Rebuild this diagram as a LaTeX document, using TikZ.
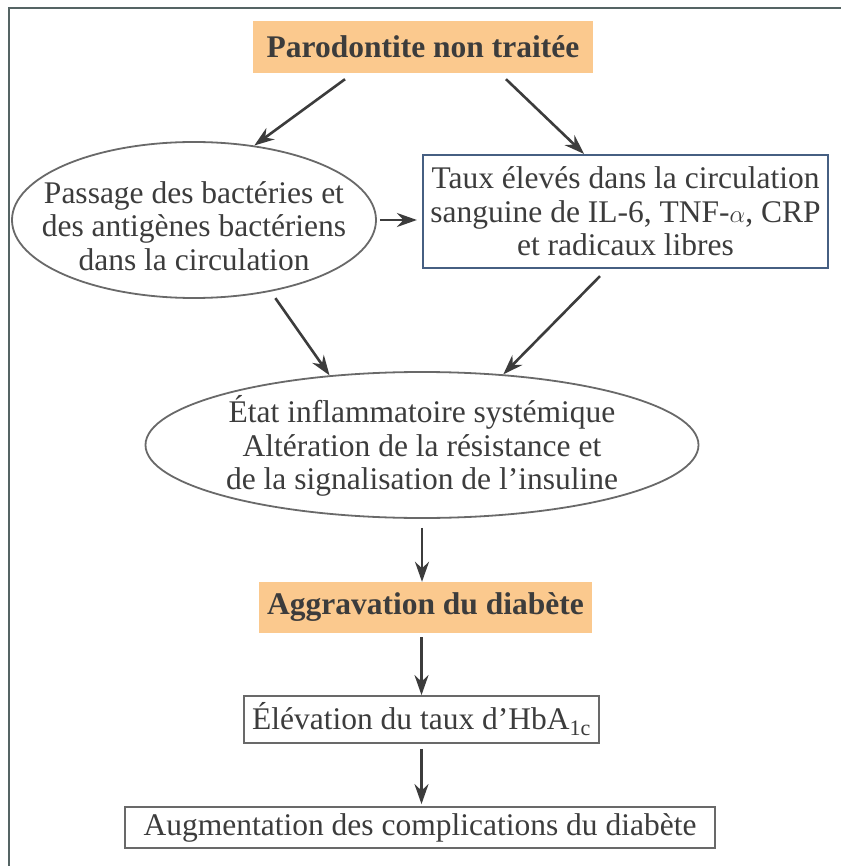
\documentclass[tikz,border=0pt]{standalone}
\usepackage{fontspec}
\setmainfont{Liberation Serif}
\usetikzlibrary{shapes.geometric,arrows.meta}
\definecolor{orangefill}{RGB}{251,201,142}
\definecolor{bluebox}{RGB}{70,95,130}
\definecolor{grayline}{RGB}{105,105,105}
\definecolor{arrowcol}{RGB}{60,60,60}
\definecolor{textcol}{RGB}{60,60,60}
\definecolor{framecol}{RGB}{85,100,100}
\tikzset{
  base/.style={text=textcol, align=center, inner sep=0pt,
    font=\fontsize{31.5}{33.5}\selectfont},
  orangebox/.style={base, fill=orangefill, font=\fontsize{31.5}{33.5}\selectfont\bfseries},
  graybox/.style={base, draw=grayline, line width=1.8pt},
  bluerect/.style={base, draw=bluebox, line width=2.2pt},
  ellshape/.style={ellipse, draw=grayline, line width=1.8pt, inner sep=0pt},
  elltext/.style={base},
  arr/.style={draw=arrowcol, line width=2.6pt, -{Stealth[length=20pt,width=14pt]}}
}
\begin{document}
\begin{tikzpicture}[x=1pt,y=-1pt]
\useasboundingbox (0,0) rectangle (840,866);
\fill[white] (0,0) rectangle (840,866);
\draw[framecol, line width=2.5pt] (9,870) -- (9,8) -- (845,8);

\node[orangebox, minimum width=340pt, minimum height=52pt] (top) at (423,47) {Parodontite non traitée};

\node[ellshape, minimum width=364pt, minimum height=156pt] (lell) at (194,220) {};
\node[elltext] (lelltext) at (194,226)
  {Passage des bactéries et\\des antigènes bactériens\\dans la circulation};

\node[bluerect, minimum width=405pt, minimum height=113pt] (rbox) at (625.5,211.5)
  {Taux élevés dans la circulation\\sanguine de IL-6, TNF-$\alpha$, CRP\\et radicaux libres};

\node[ellshape, minimum width=553pt, minimum height=146pt] (mell) at (422,445) {};
\node[elltext] (melltext) at (422,446)
  {État inflammatoire systémique\\Altération de la résistance et\\de la signalisation de l’insuline};

\node[orangebox, minimum width=333pt, minimum height=51pt] (agg) at (425.5,607.5) {Aggravation du diabète};
\node[graybox, minimum width=355pt, minimum height=47pt] (hba) at (421.5,719.5) {Élévation du taux d’HbA\textsubscript{1c}};
\node[graybox, minimum width=590pt, minimum height=41pt] (comp) at (420,827.5) {Augmentation des complications du diabète};

\draw[arr] ([xshift=-78pt,yshift=-6pt]top.south) -- (lell.51);
\draw[arr] ([xshift=83pt,yshift=-6pt]top.south) -- ([xshift=-41.5pt]rbox.north);
\draw[arr, shorten <=3pt, shorten >=5pt] (lell.east) -- (lell.east -| rbox.west);
\draw[arr, shorten <=8pt] (lell.-43) -- (mell.143);
\draw[arr] ([xshift=-25.5pt,yshift=-7pt]rbox.south) -- (mell.41);
\draw[arr, shorten <=9pt] (mell.south) -- (mell.south |- agg.north);
\draw[arr, shorten <=4pt] (agg.south -| hba.north) -- (hba.north);
\draw[arr, shorten <=5pt, shorten >=2pt] (hba.south) -- (hba.south |- comp.north);
\end{tikzpicture}
\end{document}
